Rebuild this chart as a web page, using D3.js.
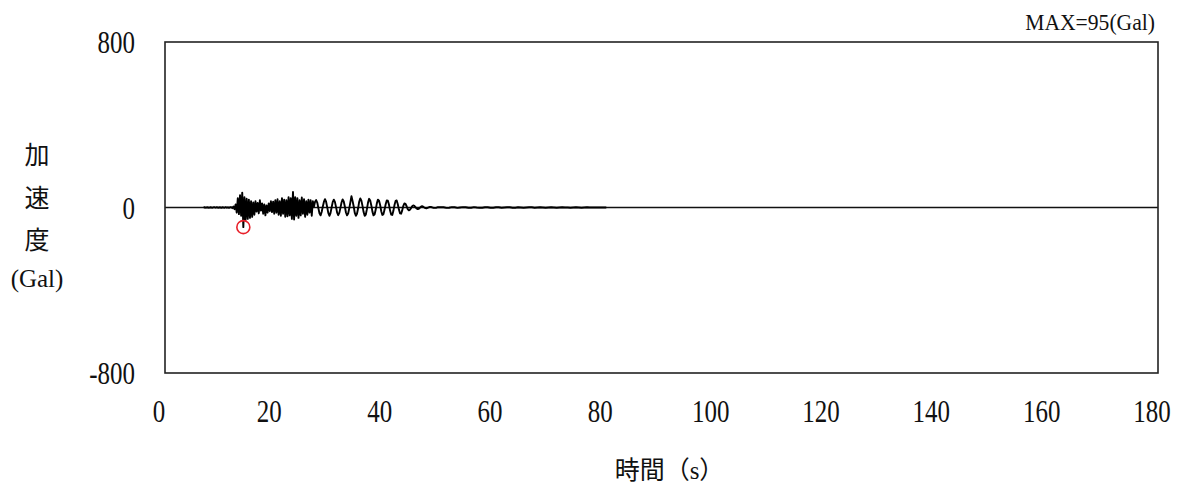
<!DOCTYPE html>
<html lang="ja">
<head>
<meta charset="utf-8">
<script src="https://cdn.jsdelivr.net/npm/d3@7"></script>
<style>
  html, body { margin: 0; padding: 0; background: #fff; }
  svg { display: block; }
  .num { font-family: "Liberation Serif", "DejaVu Serif", serif; fill: #111; }
  .cjk { font-family: "Liberation Serif", "Noto Sans CJK JP", serif; fill: #111; }
</style>
</head>
<body>
<script>
// Acceleration record (Gal), main part sampled every 0.2 s from t = 7 s
const accelStart = 7;
const accelStep = 0.2;
const accelMain = [
  0, 1, -1, 1, 0,          // 7 s
  -1, 1, 0, -1, 1,         // 8
  1, -1, 2, -1, 0,         // 9
  1, -2, 1, 0, -1,         // 10
  2, -1, 1, -2, 1,         // 11
  2, -3, 5, -8, 15,        // 12
  -25, 45, -32, 60, -40,   // 13
  72, -95, 50, -60, 42,    // 14
  -55, 38, -50, 30, -45,   // 15
  25, -35, 30, -20, 22,    // 16
  -28, 35, -15, 20, -30,   // 17
  15, -38, 10, -25, 20,    // 18
  -18, 30, -22, 28, -30,   // 19
  35, -25, 40, -35, 30,    // 20
  -40, 45, -30, 38, -45,   // 21
  35, -42, 50, -38, 45,    // 22
  -55, 75, -58, 50, -40,   // 23
  45, -50, 35, -38, 48,    // 24
  -30, 40, -45, 30, -35,   // 25
  38, -25, 35, -40, 30,    // 26
  5, 28, 36, 24, -3,       // 27
  -28, -38, -22, 4, 27,    // 28
  40, 28, 2, -26, -40,     // 29
  -27, 0, 26, 38, 27,      // 30
  3, -25, -37, -26, -2,    // 31
  24, 39, 29, 5, -24,      // 32
  -38, -29, -4, 25, 55,    // 33
  32, 6, -26, -40, -30,    // 34
  -5, 28, 44, 33, 8,       // 35
  -22, -40, -34, -8, 24,   // 36
  42, 34, 10, -20, -38,    // 37
  -33, -10, 20, 38, 33,    // 38
  12, -18, -36, -32, -10,  // 39
  16, 34, 33, 14, -15,     // 40
  -34, -36, -16, 12, 32,   // 41
  34, 16, -10, -28, -30,   // 42
  -14, 8, 20, 18, 6,       // 43
  -8, -14, -11, -3, 6,     // 44
  10, 8, 2, -5, -8,        // 45
  -6, -1, 4, 6, 4,         // 46
  0, -3, -4, -2, 1,        // 47
  3, 3, 1, -1, -2,         // 48
  -2, -1, 1, 2, 1          // 49
];

// Coda of the record, sampled every 0.5 s from t = 50 s
const tailStart = 50;
const tailStep = 0.5;
const accelTail = [
  2, 1, -2, -1,   // 50
  2, 1, -2, 0,    // 52
  2, 1, -1, -1,   // 54
  2, 0, -1, -1,   // 56
  1, 1, -1, -1,   // 58
  1, 1, -1, 0,    // 60
  1, 1, -1, -1,   // 62
  1, 0, -1, 0,    // 64
  1, 1, -1, 0,    // 66
  1, 0, -1, 0,    // 68
  1, 0, -1, 0,    // 70
  1, 0, 0, -1,    // 72
  0, 1, 0, -1,    // 74
  0, 1, 0, 0,     // 76
  0, 0, 0, 0,     // 78
  0               // 80
];

const xTicks = [0, 20, 40, 60, 80, 100, 120, 140, 160, 180];
const yTicks = [800, 0, -800];
const yTitleLines = ["加", "速", "度", "(Gal)"];
const xTitle = "時間（s）";

const W = 1181, H = 488;
const plot = { left: 165, right: 1158, top: 42, bottom: 373 };

const records = [
  ...accelMain.map((a, i) => ({ t: accelStart + i * accelStep, a })),
  ...accelTail.map((a, i) => ({ t: tailStart + i * tailStep, a }))
];

const x = d3.scaleLinear().domain([0, 180]).range([plot.left, plot.right]);
const y = d3.scaleLinear().domain([-800, 800]).range([plot.bottom, plot.top]);

const svg = d3.select("body").append("svg")
  .attr("width", W).attr("height", H);

// zero reference line
svg.append("line")
  .attr("x1", x(0)).attr("x2", x(180))
  .attr("y1", y(0)).attr("y2", y(0))
  .attr("stroke", "#111").attr("stroke-width", 1.5);

// waveform
const line = d3.line().x(d => x(d.t)).y(d => y(d.a));
svg.append("path")
  .datum(records)
  .attr("d", line)
  .attr("fill", "none")
  .attr("stroke", "#000")
  .attr("stroke-width", 1.9)
  .attr("stroke-linejoin", "round");

// frame
svg.append("rect")
  .attr("x", plot.left).attr("y", plot.top)
  .attr("width", plot.right - plot.left).attr("height", plot.bottom - plot.top)
  .attr("fill", "none").attr("stroke", "#222").attr("stroke-width", 1.6);

// peak marker
const peak = d3.greatest(records, d => Math.abs(d.a));
svg.append("circle")
  .attr("cx", x(peak.t)).attr("cy", y(peak.a)).attr("r", 6.5)
  .attr("fill", "none").attr("stroke", "#e8202a").attr("stroke-width", 1.6);

svg.append("text")
  .attr("class", "num")
  .attr("transform", "translate(1155,30) scale(0.94,1)")
  .attr("text-anchor", "end")
  .attr("font-size", 23)
  .text(`MAX=${Math.round(Math.abs(peak.a))}(Gal)`);

// x tick labels
svg.append("g").selectAll("text")
  .data(xTicks).join("text")
  .attr("class", "num")
  .attr("transform", d => `translate(${x(d) - 6},422) scale(0.78,1)`)
  .attr("text-anchor", "middle")
  .attr("font-size", 32)
  .text(d => d);

// y tick labels
svg.append("g").selectAll("text")
  .data(yTicks).join("text")
  .attr("class", "num")
  .attr("transform", d => `translate(135,${y(d) + 11}) scale(0.78,1)`)
  .attr("text-anchor", "end")
  .attr("font-size", 32)
  .text(d => d);

// y title, stacked vertically
const yTitleY = [155, 198, 240, 278];
svg.append("g").selectAll("text")
  .data(yTitleLines).join("text")
  .attr("class", "cjk")
  .attr("x", 37)
  .attr("y", (d, i) => yTitleY[i] + 9)
  .attr("text-anchor", "middle")
  .attr("font-size", 25)
  .text(d => d);

// x title
svg.append("text")
  .attr("class", "cjk")
  .attr("x", (plot.left + plot.right) / 2 + 8)
  .attr("y", 479)
  .attr("text-anchor", "middle")
  .attr("font-size", 25)
  .text(xTitle);
</script>
</body>
</html>
